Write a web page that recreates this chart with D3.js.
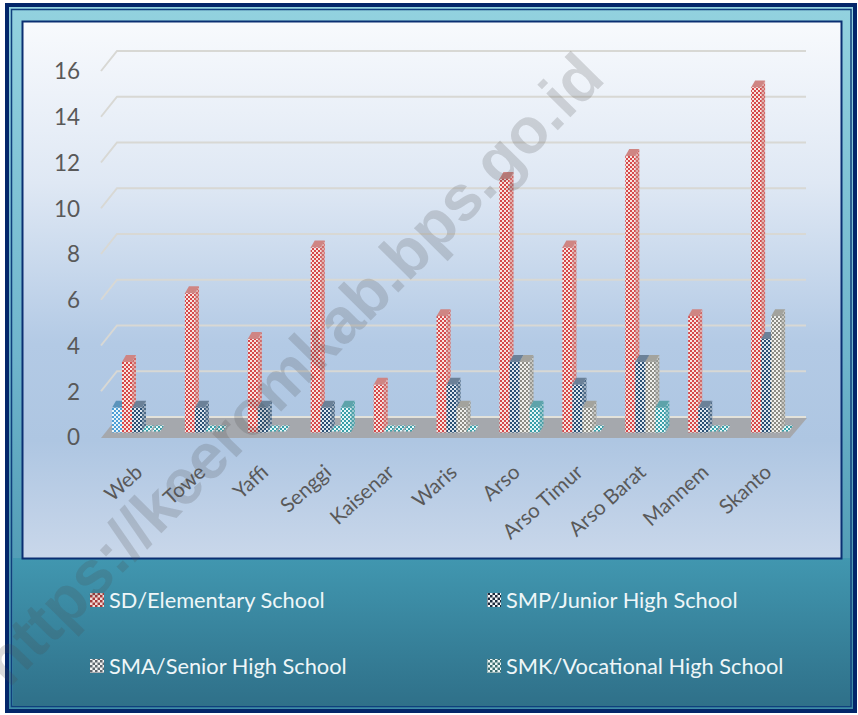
<!DOCTYPE html>
<html><head><meta charset="utf-8">
<script src="https://cdn.jsdelivr.net/npm/d3@7"></script>
<style>html,body{margin:0;padding:0;background:#fff}svg{display:block}</style>
</head><body><div id="chart"></div>
<script>
const categories = ["Web","Towe","Yaffi","Senggi","Kaisenar","Waris","Arso","Arso Timur","Arso Barat","Mannem","Skanto"];
const unlabelled = [1,0,0,0,0,0,0,0,0,0,0];
const sd  = [3,6,4,8,2,5,11,8,12,5,15];
const smp = [1,1,1,1,0,2,3,2,3,1,4];
const sma = [0,0,0,0,0,1,3,1,3,0,5];
const smk = [0,0,0,1,0,0,1,0,1,0,0];
const yTicks = [0,2,4,6,8,10,12,14,16];
const legendLabels = ["SD/Elementary School","SMP/Junior High School","SMA/Senior High School","SMK/Vocational High School"];
const watermark = "https://keeromkab.bps.go.id";

const W = 858, H = 715;
const svg = d3.select("#chart").append("svg").attr("width",W).attr("height",H);
const defs = svg.append("defs");

function grad(id, stops){
  const g = defs.append("linearGradient").attr("id",id).attr("x1",0).attr("y1",0).attr("x2",0).attr("y2",1);
  stops.forEach(s=>g.append("stop").attr("offset",s[0]).attr("stop-color",s[1]));
}
grad("plotBg",[[0,"#f8fafd"],[0.3,"#dfe8f4"],[0.6,"#b3cae5"],[0.78,"#aec6e2"],[1,"#c9d7ea"]]);
grad("legendBg",[[0,"#4197b0"],[1,"#2f7089"]]);
grad("bandBg",[[0,"#93d2df"],[0.5,"#6fb5cc"],[1,"#3d8ba5"]]);

function checker(id, a, b, size){
  const p = defs.append("pattern").attr("id",id).attr("width",size*2).attr("height",size*2)
    .attr("patternUnits","userSpaceOnUse");
  p.append("rect").attr("width",size*2).attr("height",size*2).attr("fill",a);
  p.append("rect").attr("width",size).attr("height",size).attr("fill",b);
  p.append("rect").attr("x",size).attr("y",size).attr("width",size).attr("height",size).attr("fill",b);
}
const seriesStyle = [
  {key:"unl", values:unlabelled, a:"#eaf6fc", b:"#4f9fd6", side:"#5b93bb"},
  {key:"sd",  values:sd,  a:"#f8e4e0", b:"#d5484a", side:"#cf8583"},
  {key:"smp", values:smp, a:"#dfe7ef", b:"#2a4f73", side:"#6b8198"},
  {key:"sma", values:sma, a:"#f0f0ec", b:"#8b8b84", side:"#a3a39d"},
  {key:"smk", values:smk, a:"#e6f8f9", b:"#3a9ea8", side:"#5da3aa"}
];
seriesStyle.forEach(s=>checker("pat-"+s.key,s.a,s.b,2));
checker("leg0","#f0dcd8","#a63a3a",2.5);
checker("leg1","#f3f5f7","#1d2a3c",2.5);
checker("leg2","#f2f2f2","#5f676e",2.5);
checker("leg3","#eef6f6","#3d6f72",2.5);

// Frame
svg.append("rect").attr("x",7).attr("y",5).attr("width",848).attr("height",706)
  .attr("fill","url(#bandBg)").attr("stroke","#03266a").attr("stroke-width",4);
svg.append("rect").attr("x",11.5).attr("y",9.5).attr("width",839.5).attr("height",697)
  .attr("fill","none").attr("stroke","#0f3f7d").attr("stroke-width",1.5);
svg.append("rect").attr("x",13).attr("y",558).attr("width",837).attr("height",148).attr("fill","url(#legendBg)");
svg.append("rect").attr("x",22.5).attr("y",21.5).attr("width",819).attr("height",537)
  .attr("fill","url(#plotBg)").attr("stroke","#0a2f72").attr("stroke-width",2);

// Scales
const x = d3.scaleBand().domain(categories).range([112,804]).paddingInner(0).paddingOuter(0);
const y = d3.scaleLinear().domain([0,16]).range([432.5,66.5]);
const yAxisFront = d3.scaleLinear().domain([0,16]).range([437,71]);
const seriesX = d3.scaleBand().domain(seriesStyle.map(s=>s.key)).range([0,50]);

const wallDx = 16, wallDy = 20;
const floorLeft = 101, floorRight = 790;

// Floor
const floorPts = [[floorLeft,438],[floorLeft+wallDx,418],[floorRight+wallDx+1,418],[floorRight,438]];
svg.append("path").attr("d",d3.line()(floorPts)+"Z").attr("fill","#a5a8ad");

// Gridlines
const grid = svg.append("g");
const gridLine = d3.line();
yTicks.forEach(t=>{
  if(t===0){
    grid.append("line").attr("x1",floorLeft+wallDx).attr("x2",floorRight+wallDx).attr("y1",yAxisFront(0)-wallDy).attr("y2",yAxisFront(0)-wallDy)
      .attr("stroke","#e3e2da").attr("stroke-width",2);
    return;
  }
  grid.append("path").attr("fill","none").attr("stroke", "#d8d8d4").attr("stroke-width",2)
    .attr("d",gridLine([[floorLeft,yAxisFront(t)],[floorLeft+wallDx,yAxisFront(t)-wallDy],[floorRight+wallDx,yAxisFront(t)-wallDy]]));
});

// Y axis labels
const yAxis = d3.axisLeft(yAxisFront).tickValues(yTicks).tickSize(0).tickPadding(0);
const gy = svg.append("g").attr("transform","translate(80,0)").call(yAxis);
gy.select(".domain").remove();
gy.selectAll("text").attr("font-family","Lato,sans-serif").attr("font-size",22.5).attr("fill","#595959").attr("dy","0.35em");

// Bars
const barW = seriesX.bandwidth(), dX = 4, dY = 7;
const barsG = svg.append("g");
const barData = [];
categories.forEach((c,i)=>seriesStyle.forEach((s,j)=>barData.push({c,i,j,s,v:s.values[i]})));
const bars = barsG.selectAll("g").data(barData).join("g");
const bx = d=>x(d.c)+seriesX(d.s.key);
bars.each(function(d){
  const g = d3.select(this);
  const left = bx(d), top = y(d.v)-2, bot = y(0);
  const w = barW;
  if(d.v===0){
    if(d.s.key==="unl") return;
    const t = y(0)-1;
    g.append("path").attr("d",d3.line()([[left,t],[left+dX,t-6],[left+w+dX-2,t-6],[left+w-2,t]])+"Z")
      .attr("fill","url(#pat-smk)");
    return;
  }
  const side = [[left+w,top],[left+w+dX,top-dY],[left+w+dX,bot-dY],[left+w,bot]];
  g.append("path").attr("d",d3.line()(side)+"Z").attr("fill",d.s.side);
  g.append("path").attr("d",d3.line()(side)+"Z").attr("fill","url(#pat-"+d.s.key+")").attr("opacity",0.45);
  g.append("path").attr("d",d3.line()([[left,top],[left+dX,top-dY],[left+w+dX,top-dY],[left+w,top]])+"Z")
    .attr("fill",d.s.side);
  g.append("rect").attr("x",left).attr("y",top).attr("width",w).attr("height",bot-top)
    .attr("fill","url(#pat-"+d.s.key+")");
});

// Category labels
const labels = svg.append("g");
categories.forEach(c=>{
  const lx = x(c)+22, ly = 463;
  labels.append("text").attr("transform",`translate(${lx},${ly}) rotate(-42)`)
    .attr("text-anchor","end").attr("dy","0.72em")
    .attr("font-family","Lato,sans-serif").attr("font-size",20.5).attr("fill","#595959").text(c);
});

// Legend
const legX = [90,487], legY = [600,666];
const legG = svg.append("g");
legendLabels.forEach((t,i)=>{
  const lx = legX[i%2], ly = legY[Math.floor(i/2)];
  legG.append("rect").attr("x",lx).attr("y",ly-7).attr("width",14).attr("height",14).attr("fill",`url(#leg${i})`);
  legG.append("text").attr("x",lx+19).attr("y",ly).attr("dy","0.35em")
    .attr("font-family","Lato,sans-serif").attr("font-size",21.8).attr("fill","#eef6f8").text(t);
});

// Watermark
svg.append("text").attr("transform","translate(607,80) rotate(-45.5)").attr("text-anchor","end")
  .attr("font-family","'Liberation Sans',sans-serif").attr("font-weight",700).attr("font-size",64)
  .attr("fill","#4a4a4a").attr("fill-opacity",0.2).text(watermark);
</script></body></html>
